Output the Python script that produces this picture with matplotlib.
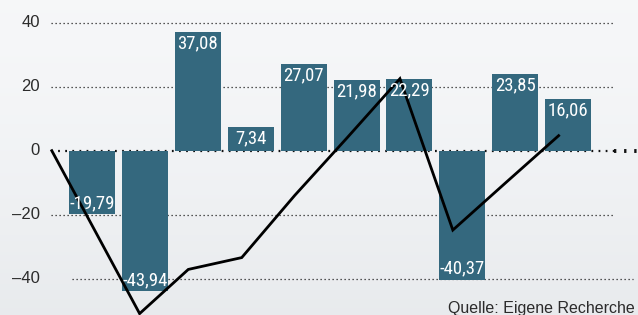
import matplotlib
matplotlib.use("Agg")
import matplotlib.pyplot as plt
import numpy as np
from matplotlib import font_manager

# data
bar_values = [-19.79, -43.94, 37.08, 7.34, 27.07, 21.98, 22.29, -40.37, 23.85, 16.06]
line_x = [-0.76, 0.9, 1.82, 2.83, 3.83, 4.82, 5.82, 6.82, 7.82, 8.82]
line_values = [0, -50.9, -37.1, -33.4, -14.0, 4.0, 22.5, -24.8, -10.0, 4.7]
tick_values = [40, 20, 0, -20, -40]
tick_labels = ["40", "20", "0", "\u201320", "\u201340"]
source = "Quelle: Eigene Recherche"

BAR_COLOR = "#34687e"
TEXT_COLOR = "#2b2b2b"

names = {f.name for f in font_manager.fontManager.ttflist}
cond = [f for f in ["Roboto Condensed", "Liberation Sans Narrow", "DejaVu Sans Condensed"] if f in names]
if not cond:
    cond = ["DejaVu Sans"]
plain = "Liberation Sans"

fig = plt.figure(figsize=(6.38, 3.15), dpi=100)
ax = fig.add_axes([0, 0, 1, 1])

# pixel -> data mapping (bar centres every ~52.9 px, zero at y=150.7, 3.2 px per unit)
ax.set_xlim(-1.739, 10.32)
ax.set_ylim(-51.34, 47.09)
ax.axis("off")

# background gradient
grad = np.linspace(0, 1, 256).reshape(-1, 1)
top = np.array([0.965, 0.969, 0.976])
bot = np.array([0.91, 0.92, 0.93])
img = top + (bot - top) * grad[..., None] ** 1.5
ax.imshow(img, extent=[-1.739, 10.32, -51.34, 47.09], aspect="auto", zorder=0, origin="upper")

# grid lines
for v in [40, 20, -20]:
    ax.plot([-0.775, 9.85], [v, v], color="#222222", lw=0.9, ls=(0, (1, 2.2)), zorder=1)
ax.plot([-0.378, 10.23], [-40, -40], color="#222222", lw=0.9, ls=(0, (1, 2.2)), zorder=1)
ax.plot([-0.78, 9.87], [0, 0], color="#111111", lw=1.6, ls=(0, (0.8, 2.4)), zorder=1)
ax.plot([9.87, 10.3], [0, 0], color="#111111", lw=2.8, ls=(0, (0.6, 2.0)), zorder=1)

x = np.arange(len(bar_values))
ax.bar(x, bar_values, width=0.87, color=BAR_COLOR, zorder=2)

ax.plot(line_x, line_values, color="black", lw=2.0, zorder=3, solid_joinstyle="miter")

for xi, v in zip(x, bar_values):
    s = ("%.2f" % v).replace(".", ",")
    if v >= 0:
        ax.annotate(s, (xi, v), xytext=(0, -1.5), textcoords="offset points",
                    ha="center", va="top", color="white", fontsize=13.5,
                    family=cond, zorder=4)
    else:
        ax.annotate(s, (xi, v), xytext=(0, 1.5), textcoords="offset points",
                    ha="center", va="bottom", color="white", fontsize=13.5,
                    family=cond, zorder=4)

for v, lab in zip(tick_values, tick_labels):
    ax.text(-1.739 + 40 / 52.9, v, lab, ha="right", va="center", fontsize=12,
            color=TEXT_COLOR, family=[plain, "DejaVu Sans"], zorder=4)

fig.text(635 / 638, 1.5 / 315, source, ha="right", va="baseline", fontsize=11.5,
         color=TEXT_COLOR, family=[plain, "DejaVu Sans"])

fig.savefig("out.png", dpi=100)
